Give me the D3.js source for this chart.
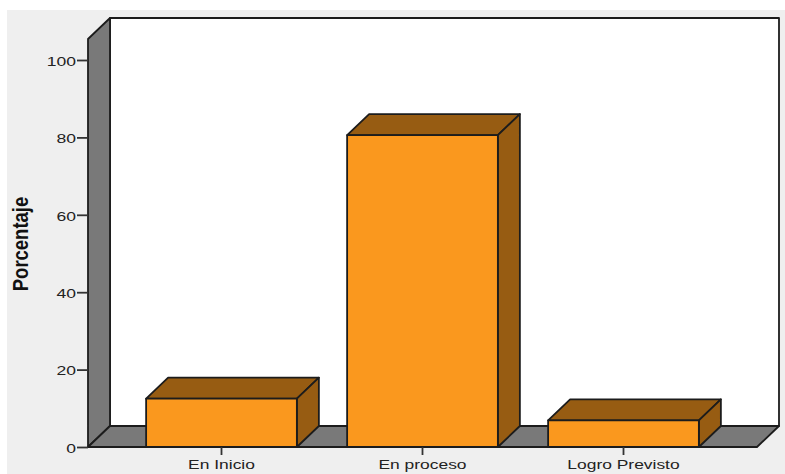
<!DOCTYPE html>
<html>
<head>
<meta charset="utf-8">
<script src="https://cdn.jsdelivr.net/npm/d3@7"></script>
<style>
  html, body { margin: 0; padding: 0; background: #fff; }
  svg { display: block; }
</style>
</head>
<body>
<script>
// Values
const categories = ['En Inicio', 'En proceso', 'Logro Previsto'];
const percentages = [12.5, 80.6, 6.9];
const yTicks = [0, 20, 40, 60, 80, 100];

const width = 785, height = 474;
const depthX = 22, depthY = 21;
const orange = '#fa981e', brown = '#975c12', grey = '#797979', ink = '#1c1c1c';
const font = '"Liberation Sans", Arial, sans-serif';

const svg = d3.select('body').append('svg')
  .attr('width', width)
  .attr('height', height)
  .attr('viewBox', `0 0 ${width} ${height}`);

// Background
svg.append('rect')
  .attr('x', 7).attr('y', 10)
  .attr('width', width - 7).attr('height', height - 10)
  .attr('fill', '#efefef');

const y = d3.scaleLinear().domain([0, 100]).range([447, 60]);
const x = d3.scaleBand().domain(categories).range([121, 724])
  .paddingInner(0.25).paddingOuter(0.125);

const wallLeft = 88, wallRight = 757, floorY = y(0), wallTop = 39;
const line = d3.line();
const shape = (pts, fill) => svg.append('path')
  .attr('d', line(pts) + 'Z')
  .attr('fill', fill)
  .attr('stroke', ink)
  .attr('stroke-width', 1.8)
  .attr('stroke-linejoin', 'round');

// Back wall
shape([[wallLeft + depthX, wallTop - depthY], [wallRight + depthX, wallTop - depthY],
  [wallRight + depthX, floorY - depthY], [wallLeft + depthX, floorY - depthY]], '#fff');
// Side wall
shape([[wallLeft, wallTop], [wallLeft + depthX, wallTop - depthY],
  [wallLeft + depthX, floorY - depthY], [wallLeft, floorY]], grey);
// Floor
shape([[wallLeft, floorY], [wallLeft + depthX, floorY - depthY],
  [wallRight + depthX, floorY - depthY], [wallRight, floorY]], grey);

// Bars
categories.forEach((c, i) => {
  const x0 = x(c), x1 = x0 + x.bandwidth(), yt = y(percentages[i]);
  shape([[x0, yt], [x0 + depthX, yt - depthY], [x1 + depthX, yt - depthY], [x1, yt]], brown);
  shape([[x1, yt], [x1 + depthX, yt - depthY], [x1 + depthX, floorY - depthY], [x1, floorY]], brown);
  shape([[x0, yt], [x1, yt], [x1, floorY], [x0, floorY]], orange);
});

// Axes
const yAxis = d3.axisLeft(y).tickValues(yTicks).tickSize(11).tickPadding(1);
const yG = svg.append('g').attr('transform', `translate(${wallLeft},0)`).call(yAxis);
const xAxis = d3.axisBottom(x).tickSize(8).tickPadding(4);
const xG = svg.append('g').attr('transform', `translate(0,${floorY})`).call(xAxis);

[yG, xG].forEach(g => {
  g.select('.domain').remove();
  g.selectAll('.tick line').attr('stroke', '#333').attr('stroke-width', 1.8);
  g.selectAll('.tick text')
    .attr('fill', '#222')
    .attr('font-family', font)
    .attr('font-size', 13.5);
});

// the original labels are stretched sideways
xG.selectAll('.tick text').attr('transform', 'scale(1.29,1)');
yG.selectAll('.tick text')
  .attr('transform', 'translate(-12,1) scale(1.3,1)')
  .attr('x', 0);

// Axis title
svg.append('text')
  .attr('transform', 'translate(28,244) rotate(-90) scale(0.84,1)')
  .attr('text-anchor', 'middle')
  .attr('font-family', font)
  .attr('font-weight', 'bold')
  .attr('font-size', 22)
  .attr('fill', '#111')
  .text('Porcentaje');
</script>
</body>
</html>
